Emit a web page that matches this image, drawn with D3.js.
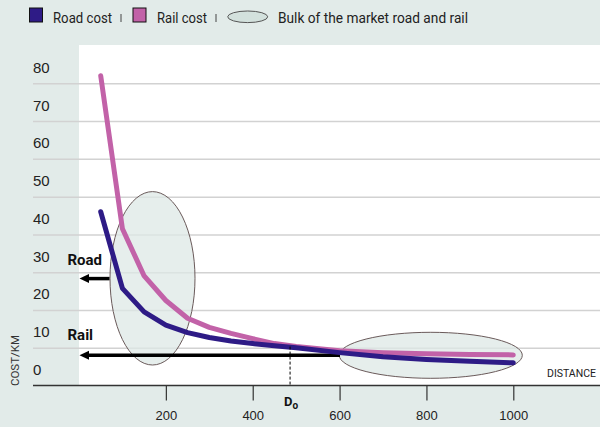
<!DOCTYPE html>
<html><head><meta charset="utf-8">
<script src="https://cdn.jsdelivr.net/npm/d3@7"></script>
<style>
html,body{margin:0;padding:0;background:#e2ebe9;}
svg{display:block;font-family:Roboto,"Noto Sans",sans-serif;}
</style></head><body>
<svg id="c" width="600" height="427"></svg>
<script>
const distances = [50,100,150,200,250,300,350,400,450,500,600,700,800,900,1000];
const railCost  = [82,41.5,29,22.5,17.8,15.4,13.8,12.4,11.1,10.3,9.2,8.7,8.4,8.2,8.1];
const roadCost  = [46,25.7,19.5,16,14,12.7,11.8,11.1,10.5,10.0,8.7,7.6,6.9,6.4,6.0];
const yTicks = [0,10,20,30,40,50,60,70,80];
const xTicks = [200,400,600,800,1000];
const legendLabels = ["Road cost","Rail cost","Bulk of the market road and rail"];
const arrowLabels = ["Road","Rail"];
const arrowLevels = [28.3,8.0];
const d0 = 486;

const svg = d3.select("#c");
const bg = "#e2ebe9";
const roadColor = "#2e1b86", railColor = "#c262a8";

const x = d3.scaleLinear().domain([0,1000]).range([79,513.3]);
const y = d3.scaleLinear().domain([0,80]).range([385.5,83.3]);

svg.append("rect").attr("width",600).attr("height",427).attr("fill",bg);
svg.append("rect").attr("x",79).attr("y",45).attr("width",521).attr("height",y(0)-45).attr("fill","#fff");

// y grid + labels
const yAxis = d3.axisRight(y).tickValues(yTicks).tickSize(567).tickFormat(d3.format("d"));
const gy = svg.append("g").attr("transform","translate(33,0)").call(yAxis);
gy.select(".domain").remove();
gy.selectAll(".tick line").attr("stroke",d=>d===0?"none":"#d2d2d2").attr("stroke-width",1.5);
gy.selectAll(".tick text").attr("x",0).attr("dy",0).attr("y",-11)
  .attr("text-anchor","start").attr("fill","#222").style("font-size","15px");

// ellipses (behind lines)
svg.append("ellipse").attr("cx",152.5).attr("cy",278.3).attr("rx",42.5).attr("ry",86.7)
  .attr("fill","#dde8e5").attr("fill-opacity",0.75).attr("stroke","#6a5a5a").attr("stroke-width",1);
svg.append("ellipse").attr("cx",430.8).attr("cy",355.3).attr("rx",91.5).attr("ry",23)
  .attr("fill","#dde8e5").attr("fill-opacity",0.75).attr("stroke","#6a5a5a").attr("stroke-width",1);

// arrows
function arrow(x2, yv){
  const yy = y(yv);
  svg.append("line").attr("x1",x(0)+8).attr("x2",x2).attr("y1",yy).attr("y2",yy)
    .attr("stroke","#000").attr("stroke-width",3.5);
  svg.append("path").attr("d",`M${x(0)+0.5},${yy} L${x(0)+10},${yy-4.5} L${x(0)+10},${yy+4.5} Z`).attr("fill","#000");
}
arrow(109.5, arrowLevels[0]);
arrow(340, arrowLevels[1]);
svg.append("text").attr("x",67.5).attr("y",265).text(arrowLabels[0])
  .attr("font-weight","bold").style("font-size","15px").attr("fill","#111");
svg.append("text").attr("x",67.5).attr("y",340).text(arrowLabels[1])
  .attr("font-weight","bold").style("font-size","15px").attr("fill","#111");

// lines
const line = d3.line().x(d=>x(d[0])).y(d=>y(d[1]));
svg.append("path").datum(distances.map((d,i)=>[d,railCost[i]])).attr("d",line)
  .attr("fill","none").attr("stroke",railColor).attr("stroke-width",5)
  .attr("stroke-linecap","round").attr("stroke-linejoin","round");
svg.append("path").datum(distances.map((d,i)=>[d,roadCost[i]])).attr("d",line)
  .attr("fill","none").attr("stroke",roadColor).attr("stroke-width",5)
  .attr("stroke-linecap","round").attr("stroke-linejoin","round");

// D0 dashed
svg.append("line").attr("x1",x(d0)).attr("x2",x(d0)).attr("y1",y(10.3)).attr("y2",y(0))
  .attr("stroke","#000").attr("stroke-width",1).attr("stroke-dasharray","3,2");

// x axis
const xAxis = d3.axisBottom(x).tickValues(xTicks).tickSize(15).tickPadding(10).tickFormat(d3.format("d"));
const gx = svg.append("g").attr("transform",`translate(0,${y(0)})`).call(xAxis);
gx.select(".domain").remove();
gx.selectAll(".tick line").attr("stroke","#333").attr("stroke-width",1.2);
gx.selectAll(".tick text").attr("fill","#222").style("font-size","13px").attr("font-weight",500);
svg.append("line").attr("x1",33).attr("x2",600).attr("y1",y(0)).attr("y2",y(0))
  .attr("stroke","#333").attr("stroke-width",1.5);

// D0 label
const dl = svg.append("text").attr("x",284).attr("y",405.5).attr("fill","#111")
  .attr("font-weight","bold").style("font-size","13px");
dl.append("tspan").text("D");
dl.append("tspan").text("o").attr("dy",3).style("font-size","10px");

// axis titles
svg.append("text").attr("transform","translate(19,360.5) rotate(-90)").attr("text-anchor","middle")
  .text("COST/KM").style("font-size","11.5px").attr("fill","#333");
svg.append("text").attr("x",547).attr("y",377).text("DISTANCE").style("font-size","10.5px").attr("fill","#222");

// legend
const lg = svg.append("g");
lg.append("rect").attr("x",29.5).attr("y",8).attr("width",13).attr("height",14)
  .attr("fill",roadColor).attr("stroke","#111").attr("stroke-width",1);
lg.append("text").attr("x",53).attr("y",22.5).text(legendLabels[0]).style("font-size","14.5px")
  .attr("textLength",59).attr("lengthAdjust","spacingAndGlyphs").attr("fill","#222");
lg.append("line").attr("x1",121).attr("x2",121).attr("y1",14).attr("y2",22).attr("stroke","#444").attr("stroke-width",1);
lg.append("rect").attr("x",133).attr("y",8).attr("width",13).attr("height",14)
  .attr("fill",railColor).attr("stroke","#111").attr("stroke-width",1);
lg.append("text").attr("x",157).attr("y",22.5).text(legendLabels[1]).style("font-size","14.5px")
  .attr("textLength",50).attr("lengthAdjust","spacingAndGlyphs").attr("fill","#222");
lg.append("line").attr("x1",216).attr("x2",216).attr("y1",14).attr("y2",22).attr("stroke","#444").attr("stroke-width",1);
lg.append("ellipse").attr("cx",247.7).attr("cy",16.8).attr("rx",20).attr("ry",5.8)
  .attr("fill","#d3e1dd").attr("stroke","#555").attr("stroke-width",1);
lg.append("text").attr("x",278).attr("y",22.5).text(legendLabels[2]).style("font-size","14.5px")
  .attr("textLength",190).attr("lengthAdjust","spacingAndGlyphs").attr("fill","#222");
</script>
</body></html>
